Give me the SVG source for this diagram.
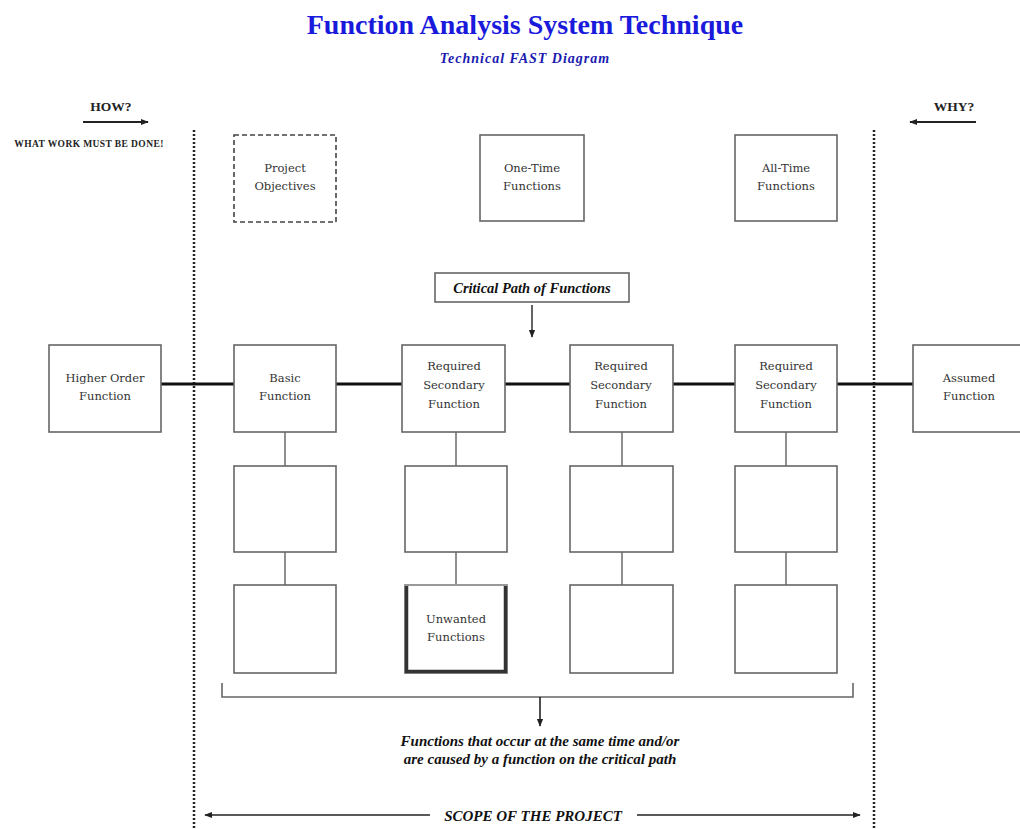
<svg xmlns="http://www.w3.org/2000/svg" width="1020" height="829" viewBox="0 0 1020 829">
<style>
.box{fill:#fff;stroke:#666;stroke-width:1.6}
.t{font-family:"DejaVu Serif","Liberation Serif",serif;font-size:11.5px;fill:#333;text-anchor:middle}
.bi{font-family:"Liberation Serif",serif;font-weight:bold;font-style:italic;fill:#111;text-anchor:middle}
.b{font-family:"Liberation Serif",serif;font-weight:bold;fill:#222;text-anchor:middle}
.thin{stroke:#555;stroke-width:1.3;fill:none}
.dot{stroke:#222;stroke-width:2.5;stroke-dasharray:2 2;fill:none}
</style>
<defs>
<marker id="ah" viewBox="0 0 10 10" refX="9" refY="5" markerWidth="8" markerHeight="8" markerUnits="userSpaceOnUse" orient="auto">
<path d="M0,1 L10,5 L0,9 z" fill="#222"/>
</marker>
</defs>
<rect width="1020" height="829" fill="#fff"/>
<text x="525" y="34" font-family="Liberation Serif,serif" font-weight="bold" font-size="28" fill="#1a1adc" text-anchor="middle">Function Analysis System Technique</text>
<text x="525" y="63" class="bi" font-size="14" letter-spacing="1" style="fill:#1a1ab0">Technical FAST  Diagram</text>
<g id="how">
<text x="111" y="111" class="b" font-size="13.5">HOW?</text>
<text x="89" y="147" class="b" font-size="9.5" letter-spacing="0.4">WHAT WORK MUST BE DONE!</text>
</g>
<g id="why">
<text x="954" y="111" class="b" font-size="13.5">WHY?</text>
</g>
<g id="connectors">
<line x1="83" y1="122" x2="148" y2="122" stroke="#222" stroke-width="2" marker-end="url(#ah)"/>
<line x1="976" y1="122" x2="910" y2="122" stroke="#222" stroke-width="2" marker-end="url(#ah)"/>
<line x1="194" y1="130" x2="194" y2="829" class="dot"/>
<line x1="874" y1="130" x2="874" y2="829" class="dot"/>
<line x1="161" y1="384" x2="913" y2="384" stroke="#111" stroke-width="3.2"/>
<line x1="532" y1="305" x2="532" y2="337" stroke="#222" stroke-width="1.4" marker-end="url(#ah)"/>
<path d="M285,432 V466 M285,552 V585 M456,432 V466 M456,552 V585 M622,432 V466 M622,552 V585 M786,432 V466 M786,552 V585" class="thin"/>
<path d="M222,683 V697 H853 V683" stroke="#666" stroke-width="1.6" fill="none"/>
<line x1="540" y1="697" x2="540" y2="726" stroke="#222" stroke-width="1.6" marker-end="url(#ah)"/>
<line x1="430" y1="815" x2="205" y2="815" stroke="#222" stroke-width="1.4" marker-end="url(#ah)"/>
<line x1="637" y1="815" x2="860" y2="815" stroke="#222" stroke-width="1.4" marker-end="url(#ah)"/>
</g>
<g id="project-objectives">
<rect x="234" y="135" width="102" height="87" fill="#fff" stroke="#444" stroke-width="1.6" stroke-dasharray="5 3"/>
<text class="t" x="285" y="172">Project</text><text class="t" x="285" y="190">Objectives</text>
</g>
<g id="one-time">
<rect class="box" x="480" y="135" width="104" height="86"/>
<text class="t" x="532" y="172">One-Time</text><text class="t" x="532" y="190">Functions</text>
</g>
<g id="all-time">
<rect class="box" x="735" y="135" width="102" height="86"/>
<text class="t" x="786" y="172">All-Time</text><text class="t" x="786" y="190">Functions</text>
</g>
<g id="critical-path">
<rect class="box" x="435" y="273" width="194" height="29"/>
<text class="bi" x="532" y="293" font-size="14.5">Critical Path of Functions</text>
</g>
<g id="higher-order">
<rect class="box" x="49" y="345" width="112" height="87"/>
<text class="t" x="105" y="382">Higher Order</text><text class="t" x="105" y="400">Function</text>
</g>
<g id="basic">
<rect class="box" x="234" y="345" width="102" height="87"/>
<text class="t" x="285" y="382">Basic</text><text class="t" x="285" y="400">Function</text>
</g>
<g id="rsf1">
<rect class="box" x="402" y="345" width="103" height="87"/>
<text class="t" x="454" y="370">Required</text><text class="t" x="454" y="389">Secondary</text><text class="t" x="454" y="408">Function</text>
</g>
<g id="rsf2">
<rect class="box" x="570" y="345" width="103" height="87"/>
<text class="t" x="621" y="370">Required</text><text class="t" x="621" y="389">Secondary</text><text class="t" x="621" y="408">Function</text>
</g>
<g id="rsf3">
<rect class="box" x="735" y="345" width="102" height="87"/>
<text class="t" x="786" y="370">Required</text><text class="t" x="786" y="389">Secondary</text><text class="t" x="786" y="408">Function</text>
</g>
<g id="assumed">
<rect class="box" x="913" y="345" width="110" height="87"/>
<text class="t" x="969" y="382">Assumed</text><text class="t" x="969" y="400">Function</text>
</g>
<g id="r2c1"><rect class="box" x="234" y="466" width="102" height="86"/></g>
<g id="r2c2"><rect class="box" x="405" y="466" width="102" height="86"/></g>
<g id="r2c3"><rect class="box" x="570" y="466" width="103" height="86"/></g>
<g id="r2c4"><rect class="box" x="735" y="466" width="102" height="86"/></g>
<g id="r3c1"><rect class="box" x="234" y="585" width="102" height="88"/></g>
<g id="unwanted">
<rect x="405" y="585" width="102" height="88" fill="#fff" stroke="#999" stroke-width="2"/>
<path d="M406.5,586 V671.5 H505.5 V586" fill="none" stroke="#333" stroke-width="3.5"/>
<text class="t" x="456" y="623">Unwanted</text><text class="t" x="456" y="641">Functions</text>
</g>
<g id="r3c3"><rect class="box" x="570" y="585" width="103" height="88"/></g>
<g id="r3c4"><rect class="box" x="735" y="585" width="102" height="88"/></g>
<g id="note">
<text class="bi" x="540" y="746" font-size="15">Functions that occur at the same time and/or</text>
<text class="bi" x="540" y="764" font-size="15">are caused by a function on the critical path</text>
</g>
<g id="scope">
<text class="bi" x="533" y="821" font-size="15">SCOPE OF THE PROJECT</text>
</g>
</svg>
